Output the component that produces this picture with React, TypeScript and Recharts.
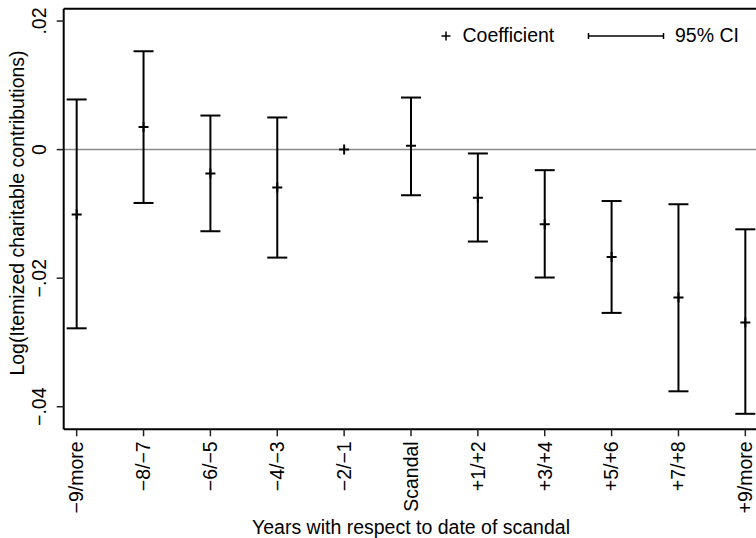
import { ScatterChart, Scatter, XAxis, YAxis, ErrorBar, ReferenceLine, Legend, Label } from "recharts";

const categories = ["−9/more", "−8/−7", "−6/−5", "−4/−3", "−2/−1", "Scandal", "+1/+2", "+3/+4", "+5/+6", "+7/+8", "+9/more"];
const coefficients = [-0.0101, 0.0035, -0.0037, -0.0059, 0, 0.0006, -0.0075, -0.0116, -0.0167, -0.023, -0.0269];
const ciLower = [-0.0278, -0.0083, -0.0127, -0.0168, null, -0.0071, -0.0143, -0.0199, -0.0254, -0.0376, -0.0411];
const ciUpper = [0.0078, 0.0153, 0.0053, 0.005, null, 0.0081, -0.0006, -0.0032, -0.008, -0.0085, -0.0124];
const yTicks = [-0.04, -0.02, 0, 0.02];

const CHART_W = 780;
const CHART_H = 538;
const FONT = "'Liberation Sans', Arial, Helvetica, sans-serif";
const FS = 19.5;
const Y_DOMAIN: [number, number] = [-0.04351, 0.02192];

const data = categories.map((name, i) => {
  const lo = ciLower[i];
  const hi = ciUpper[i];
  return {
    x: i + 1,
    name,
    coef: coefficients[i],
    err: lo == null || hi == null ? null : [coefficients[i] - lo, hi - coefficients[i]],
  };
});

const fmtY = (v: number) => {
  if (v === 0) return "0";
  const s = Math.abs(v).toFixed(2).replace(/^0/, "");
  return v < 0 ? "−" + s : s;
};

const PlusMark = (props: any) => {
  const { cx, cy } = props;
  if (cx == null || cy == null) return null;
  return (
    <g>
      <line x1={cx - 5} x2={cx + 5} y1={cy} y2={cy} stroke="#000" strokeWidth={2} />
      <line x1={cx} x2={cx} y1={cy - 5} y2={cy + 5} stroke="#000" strokeWidth={2} />
    </g>
  );
};

const XTick = (props: any) => {
  const { x, y, payload } = props;
  const label = categories[payload.value - 1] ?? "";
  const bx = x + 6.8;
  return (
    <text x={bx} y={y} transform={`rotate(-90, ${bx}, ${y})`} textAnchor="end" fontFamily={FONT} fontSize={FS} fill="#000">
      {label}
    </text>
  );
};

const YTick = (props: any) => {
  const { x, y, payload } = props;
  return (
    <text x={x} y={y} transform={`rotate(-90, ${x}, ${y})`} textAnchor="middle" fontFamily={FONT} fontSize={FS} fill="#000">
      {fmtY(payload.value)}
    </text>
  );
};

const renderLegend = () => (
  <svg width={CHART_W} height={60} style={{ display: "block" }}>
    <line x1={441.5} x2={450.5} y1={36} y2={36} stroke="#000" strokeWidth={1.5} />
    <line x1={446} x2={446} y1={31.5} y2={40.5} stroke="#000" strokeWidth={1.5} />
    <text x={462.5} y={42} fontFamily={FONT} fontSize={FS} fill="#000">Coefficient</text>
    <line x1={588} x2={664} y1={36} y2={36} stroke="#000" strokeWidth={1.5} />
    <line x1={588.5} x2={588.5} y1={33} y2={39} stroke="#000" strokeWidth={1.5} />
    <line x1={663.5} x2={663.5} y1={33} y2={39} stroke="#000" strokeWidth={1.5} />
    <text x={675} y={42} fontFamily={FONT} fontSize={FS} fill="#000">95% CI</text>
  </svg>
);

export default function App() {
  return (
    <div style={{ position: "absolute", left: 0, top: 0, width: 756, height: 538, overflow: "hidden", background: "#fff" }}>
      <ScatterChart width={CHART_W} height={CHART_H} margin={{ top: 8.7, right: 21.7, bottom: 0, left: 0 }}>
        <XAxis
          type="number"
          dataKey="x"
          domain={[0.806, 11.194]}
          allowDataOverflow
          ticks={[1, 2, 3, 4, 5, 6, 7, 8, 9, 10, 11]}
          interval={0}
          tickSize={7}
          tickMargin={5}
          height={108.7}
          axisLine={{ stroke: "#000", strokeWidth: 2 }}
          tickLine={{ stroke: "#222", strokeWidth: 1.5 }}
          tick={<XTick />}
        >
          <Label
            content={(p: any) => {
              const vb = p.viewBox || {};
              const cx = (vb.x ?? 63.7) + (vb.width ?? 694.6) / 2;
              return (
                <text x={cx} y={533.5} textAnchor="middle" fontFamily={FONT} fontSize={FS} fill="#000">
                  Years with respect to date of scandal
                </text>
              );
            }}
          />
        </XAxis>
        <YAxis
          type="number"
          dataKey="coef"
          domain={Y_DOMAIN}
          allowDataOverflow
          ticks={yTicks}
          interval={0}
          width={63.7}
          tickSize={7}
          tickMargin={11}
          axisLine={{ stroke: "#000", strokeWidth: 2 }}
          tickLine={{ stroke: "#222", strokeWidth: 1.5 }}
          tick={<YTick />}
        >
          <Label
            content={() => {
              const bx = 24;
              const cy = 213;
              return (
                <text x={bx} y={cy} transform={`rotate(-90, ${bx}, ${cy})`} textAnchor="middle" fontFamily={FONT} fontSize={FS} fill="#000">
                  Log(Itemized charitable contributions)
                </text>
              );
            }}
          />
        </YAxis>
        <ReferenceLine y={Y_DOMAIN[1]} stroke="#000" strokeWidth={2} />
        <ReferenceLine y={0} stroke="#8a8a8a" strokeWidth={1.5} />
        <Legend content={renderLegend} layout="horizontal" verticalAlign="middle" align="center" wrapperStyle={{ position: "absolute", left: 0, top: 0, width: CHART_W, height: 60 }} />
        <Scatter name="Coefficient" data={data} dataKey="coef" shape={<PlusMark />} isAnimationActive={false}>
          <ErrorBar dataKey="err" direction="y" width={10} stroke="#000" strokeWidth={2} isAnimationActive={false} />
        </Scatter>
      </ScatterChart>
    </div>
  );
}
